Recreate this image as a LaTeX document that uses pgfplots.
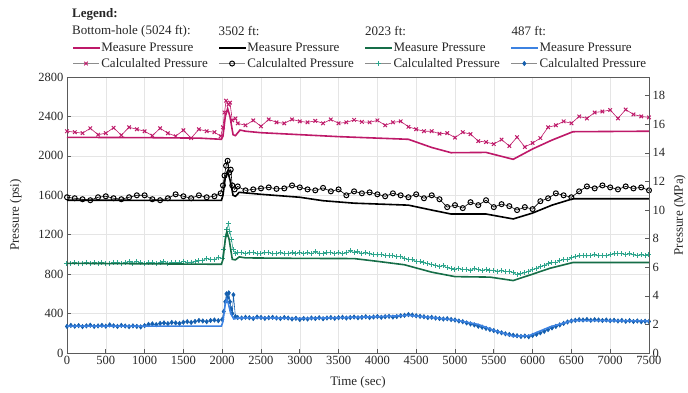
\documentclass[border=0pt]{standalone}
\usepackage{fontspec}
\setmainfont{Liberation Serif}
\usepackage{pgfplots}
\pgfplotsset{compat=1.18}
\definecolor{cmag}{RGB}{190,25,105}
\definecolor{cgrnM}{RGB}{22,110,72}
\definecolor{cgrnC}{RGB}{45,165,140}
\definecolor{cbluM}{RGB}{60,130,225}
\definecolor{cbluC}{RGB}{20,95,175}
\definecolor{axgray}{RGB}{90,90,90}
\begin{document}
\begin{tikzpicture}
\useasboundingbox (-67pt,-39pt) rectangle (621pt,353pt);
\begin{axis}[
 at={(0pt,0pt)}, anchor=south west,
 width=582pt, height=276pt, scale only axis,
 xmin=0, xmax=7500, ymin=0, ymax=2800,
 xtick={0,500,...,7500}, ytick={0,400,...,2800},
 tick pos=left, tick align=inside, major tick length=4pt,
 grid=major, major grid style={color=black!10, line width=0.5pt},
 axis line style={axgray, line width=0.8pt},
 tick style={axgray, line width=0.6pt},
 ticklabel style={font=\fontsize{12.5}{14}\selectfont, text=black!85},
 /pgf/number format/assume math mode=true,
 /pgf/number format/1000 sep={},
 xlabel={Time (sec)}, ylabel={Pressure (psi)},
 label style={font=\fontsize{13}{15}\selectfont, text=black!85},
 xlabel style={at={(axis description cs:0.5,-0.105)}, anchor=center},
 ylabel style={at={(axis description cs:-0.088,0.5)}, anchor=center, rotate=0},
 clip mode=individual,
 legend columns=4,
 legend cell align=left,
 legend style={at={(axis description cs:0.0086,1.076)}, anchor=west, draw=none, fill=none, inner sep=0pt,
   font=\fontsize{13}{14}\selectfont, text=black!85, nodes={inner sep=0.5pt}, row sep=4pt, column sep=0pt},
 legend image code/.code={\draw[mark repeat=2,mark phase=2,#1] plot coordinates {(0pt,0pt) (13pt,0pt) (26pt,0pt)};},
]
% ---------- legend images ----------
\addlegendimage{legend image code/.code={\draw[cmag, line width=1.6pt] (0pt,0pt) -- (27pt,0pt);}}
\addlegendentry{\makebox[116.5pt][l]{Measure Pressure}}
\addlegendimage{legend image code/.code={\draw[black, line width=1.6pt] (0pt,0pt) -- (27pt,0pt);}}
\addlegendentry{\makebox[116.5pt][l]{Measure Pressure}}
\addlegendimage{legend image code/.code={\draw[cgrnM, line width=1.6pt] (0pt,0pt) -- (27pt,0pt);}}
\addlegendentry{\makebox[116.5pt][l]{Measure Pressure}}
\addlegendimage{legend image code/.code={\draw[cbluM, line width=1.6pt] (0pt,0pt) -- (27pt,0pt);}}
\addlegendentry{\makebox[108pt][l]{Measure Pressure}}
\addlegendimage{black!45, line width=0.6pt, mark=x, mark size=2.5pt, mark options={cmag, line width=1pt}}
\addlegendentry{\makebox[116.5pt][l]{Calculalted Pressure}}
\addlegendimage{black!45, line width=0.6pt, mark=o, mark size=2.5pt, mark options={black, line width=1pt}}
\addlegendentry{\makebox[116.5pt][l]{Calculalted Pressure}}
\addlegendimage{black!45, line width=0.6pt, mark=+, mark size=2.5pt, mark options={cgrnC, line width=1pt}}
\addlegendentry{\makebox[116.5pt][l]{Calculalted Pressure}}
\addlegendimage{black!45, line width=0.6pt, mark=diamond*, mark size=2.2pt, mark options={cbluC}}
\addlegendentry{\makebox[108pt][l]{Calculalted Pressure}}

% ---------- Bottom-hole ----------
\addplot[forget plot, cmag, line width=0.6pt, mark=x, mark size=2.5pt, mark options={line width=1pt}] coordinates {
(0,2250)(100,2240)(200,2230)(300,2280)(400,2215)(500,2230)(600,2285)(700,2210)(800,2290)(900,2270)(1000,2250)(1100,2205)(1200,2280)(1300,2230)(1400,2200)(1500,2260)(1600,2180)(1700,2270)(1800,2250)(1900,2240)(1980,2200)(2010,2290)(2030,2440)(2050,2560)(2080,2520)(2100,2540)(2130,2360)(2170,2380)(2200,2330)(2300,2310)(2400,2360)(2500,2300)(2600,2370)(2700,2340)(2800,2330)(2900,2370)(3000,2350)(3100,2340)(3200,2355)(3300,2330)(3400,2370)(3500,2330)(3600,2340)(3700,2365)(3800,2345)(3900,2340)(4000,2360)(4100,2310)(4200,2340)(4300,2350)(4400,2295)(4500,2270)(4600,2250)(4700,2250)(4800,2225)(4900,2230)(5000,2185)(5100,2240)(5200,2220)(5300,2150)(5400,2140)(5500,2120)(5600,2165)(5700,2100)(5800,2190)(5900,2090)(6000,2130)(6100,2180)(6200,2290)(6300,2310)(6400,2350)(6500,2330)(6600,2400)(6700,2380)(6800,2440)(6900,2450)(7000,2465)(7100,2380)(7200,2470)(7300,2420)(7400,2400)(7500,2390)};
\addplot[forget plot, cmag, line width=1.6pt, mark=none] coordinates {
(0,2188)(1000,2185)(1700,2180)(1990,2168)(2010,2200)(2040,2400)(2070,2480)(2100,2400)(2140,2215)(2170,2205)(2230,2262)(2300,2250)(2500,2235)(3000,2215)(3500,2195)(4000,2180)(4400,2168)(4700,2085)(4950,2032)(5400,2035)(5750,1965)(6000,2070)(6250,2160)(6520,2245)(7500,2250)};

% ---------- 3502 ft ----------
\addplot[forget plot, black, line width=0.6pt, mark=o, mark size=2.5pt, mark options={line width=1pt}] coordinates {
(0,1580)(100,1570)(200,1560)(300,1550)(400,1580)(500,1590)(600,1570)(700,1560)(800,1580)(900,1600)(1000,1600)(1100,1560)(1200,1550)(1300,1570)(1400,1610)(1500,1590)(1600,1570)(1700,1600)(1800,1580)(1900,1590)(1980,1620)(2010,1700)(2030,1800)(2050,1900)(2070,1950)(2090,1830)(2110,1860)(2130,1700)(2160,1660)(2200,1690)(2300,1650)(2400,1660)(2500,1670)(2600,1680)(2700,1665)(2800,1670)(2900,1700)(3000,1680)(3100,1660)(3200,1650)(3300,1675)(3400,1640)(3500,1660)(3600,1600)(3700,1640)(3800,1620)(3900,1630)(4000,1610)(4100,1590)(4200,1620)(4300,1600)(4400,1580)(4500,1610)(4600,1570)(4700,1600)(4800,1560)(4900,1480)(5000,1500)(5100,1470)(5200,1530)(5300,1500)(5400,1550)(5500,1480)(5600,1510)(5700,1490)(5800,1450)(5900,1480)(6000,1460)(6100,1540)(6200,1570)(6300,1620)(6400,1600)(6500,1580)(6600,1640)(6700,1690)(6800,1670)(6900,1700)(7000,1680)(7100,1660)(7200,1690)(7300,1670)(7400,1680)(7500,1650)};
\addplot[forget plot, black, line width=1.6pt, mark=none] coordinates {
(0,1550)(1990,1548)(2010,1600)(2040,1780)(2070,1840)(2100,1760)(2140,1600)(2170,1590)(2220,1630)(2500,1610)(3000,1580)(3300,1545)(3700,1520)(4400,1500)(4700,1450)(4950,1410)(5400,1410)(5750,1360)(6000,1420)(6250,1500)(6520,1565)(7500,1565)};

% ---------- 2023 ft ----------
\addplot[forget plot, cgrnC, line width=0.6pt, mark=+, mark size=2.5pt, mark options={line width=1pt}] coordinates {
(0,910)(50,905)(100,915)(150,908)(200,912)(250,920)(300,910)(350,915)(400,905)(450,918)(500,912)(550,908)(600,920)(650,915)(700,910)(750,918)(800,925)(850,912)(900,930)(950,915)(1000,905)(1050,915)(1100,920)(1150,910)(1200,918)(1250,925)(1300,912)(1350,915)(1400,920)(1450,915)(1500,930)(1550,918)(1600,922)(1650,925)(1700,935)(1750,940)(1800,960)(1850,950)(1900,945)(1950,970)(2000,960)(2020,1050)(2040,1180)(2060,1250)(2080,1310)(2100,1230)(2120,1150)(2140,1050)(2170,1010)(2200,1015)(2250,1020)(2300,1010)(2350,1015)(2400,1020)(2450,1005)(2500,1010)(2550,1015)(2600,1020)(2650,1005)(2700,1010)(2750,1018)(2800,1005)(2850,1012)(2900,1015)(2950,1005)(3000,1020)(3050,1010)(3100,1015)(3150,1008)(3200,1025)(3250,1012)(3300,1010)(3350,1015)(3400,1020)(3450,1010)(3500,1015)(3550,1005)(3600,1015)(3650,1035)(3700,1020)(3750,1025)(3800,1010)(3850,1015)(3900,1005)(3950,1000)(4000,995)(4050,1000)(4100,990)(4150,985)(4200,990)(4250,975)(4300,980)(4350,960)(4400,950)(4450,945)(4500,930)(4550,925)(4600,915)(4650,905)(4700,900)(4750,890)(4800,880)(4850,885)(4900,865)(4950,855)(5000,850)(5050,860)(5100,845)(5150,850)(5200,840)(5250,855)(5300,845)(5350,835)(5400,850)(5450,840)(5500,838)(5550,830)(5600,835)(5650,825)(5700,830)(5750,815)(5800,795)(5850,805)(5900,815)(5950,830)(6000,845)(6050,860)(6100,875)(6150,890)(6200,905)(6250,920)(6300,915)(6350,935)(6400,950)(6450,945)(6500,965)(6550,975)(6600,985)(6650,990)(6700,985)(6750,990)(6800,995)(6850,985)(6900,990)(6950,985)(7000,995)(7050,1005)(7100,1010)(7150,1008)(7200,1000)(7250,1005)(7300,995)(7350,990)(7400,995)(7450,990)(7500,995)};
\addplot[forget plot, cgrnM, line width=1.6pt, mark=none] coordinates {
(0,910)(1000,905)(1990,900)(2010,950)(2040,1150)(2060,1230)(2090,1150)(2130,950)(2170,945)(2220,975)(2300,965)(3000,960)(3700,958)(4000,930)(4350,895)(4700,820)(5000,775)(5450,770)(5750,735)(6000,800)(6225,860)(6520,918)(7500,918)};

% ---------- 487 ft ----------
\addplot[forget plot, cbluC, line width=0.6pt, mark=diamond*, mark size=2.2pt] coordinates {
(0,270)(50,280)(100,272)(150,278)(200,268)(250,275)(300,282)(350,270)(400,275)(450,280)(500,272)(550,285)(600,276)(650,270)(700,280)(750,274)(800,268)(850,275)(900,270)(950,265)(1000,278)(1050,290)(1100,295)(1150,288)(1200,300)(1250,305)(1300,298)(1350,310)(1400,305)(1450,300)(1500,312)(1550,318)(1600,310)(1650,320)(1700,330)(1750,325)(1800,318)(1850,330)(1900,335)(1950,328)(2000,340)(2020,420)(2040,520)(2055,600)(2070,560)(2085,610)(2100,520)(2115,450)(2130,400)(2145,590)(2170,370)(2200,360)(2250,355)(2300,362)(2350,358)(2400,350)(2450,365)(2500,360)(2550,352)(2600,358)(2650,362)(2700,355)(2750,350)(2800,360)(2850,355)(2900,345)(2950,352)(3000,340)(3050,350)(3100,345)(3150,355)(3200,350)(3250,358)(3300,348)(3350,355)(3400,360)(3450,352)(3500,358)(3550,362)(3600,355)(3650,360)(3700,365)(3750,358)(3800,362)(3850,368)(3900,360)(3950,365)(4000,370)(4050,362)(4100,368)(4150,372)(4200,365)(4250,370)(4300,378)(4350,382)(4400,390)(4450,385)(4500,378)(4550,372)(4600,368)(4650,360)(4700,362)(4750,355)(4800,350)(4850,345)(4900,348)(4950,340)(5000,335)(5050,325)(5100,318)(5150,305)(5200,295)(5250,285)(5300,272)(5350,262)(5400,250)(5450,238)(5500,228)(5550,215)(5600,205)(5650,195)(5700,188)(5750,180)(5800,175)(5850,168)(5900,172)(5950,165)(6000,178)(6050,190)(6100,205)(6150,220)(6200,238)(6250,255)(6300,270)(6350,285)(6400,300)(6450,315)(6500,325)(6550,332)(6600,338)(6650,335)(6700,340)(6750,332)(6800,338)(6850,335)(6900,330)(6950,335)(7000,328)(7050,332)(7100,325)(7150,330)(7200,322)(7250,328)(7300,320)(7350,325)(7400,318)(7450,322)(7500,320)};
\addplot[forget plot, cbluM, line width=1.6pt, mark=none] coordinates {
(0,272)(1000,272)(1990,272)(2010,320)(2040,500)(2060,545)(2080,500)(2110,400)(2150,345)(2200,355)(2500,358)(3000,350)(3500,358)(4000,368)(4400,382)(4700,360)(5000,335)(5300,290)(5500,230)(5750,170)(5950,175)(6225,265)(6520,330)(7500,325)};

% ---------- legend headers ----------
\node[anchor=west, font=\bfseries\fontsize{13}{14}\selectfont, text=black!85, inner sep=0pt] at (axis description cs:0.0086,1.225) {Legend:};
\node[anchor=west, font=\fontsize{13}{14}\selectfont, text=black!85, inner sep=0pt] at (axis description cs:0.0086,1.167) {Bottom-hole (5024 ft):};
\node[anchor=west, font=\fontsize{13}{14}\selectfont, text=black!85, inner sep=0pt] at (axis description cs:0.2603,1.167) {3502 ft:};
\node[anchor=west, font=\fontsize{13}{14}\selectfont, text=black!85, inner sep=0pt] at (axis description cs:0.5120,1.167) {2023 ft:};
\node[anchor=west, font=\fontsize{13}{14}\selectfont, text=black!85, inner sep=0pt] at (axis description cs:0.7637,1.167) {487 ft:};
\end{axis}
\begin{axis}[
 at={(0pt,0pt)}, anchor=south west,
 width=582pt, height=276pt, scale only axis,
 xmin=0, xmax=7500, ymin=0, ymax=19.3053,
 axis x line=none, axis y line*=right,
 ytick={0,2,...,18},
 tick align=inside, major tick length=4pt,
 axis line style={axgray, line width=0.8pt},
 tick style={axgray, line width=0.6pt},
 ticklabel style={font=\fontsize{12.5}{14}\selectfont, text=black!85},
 /pgf/number format/assume math mode=true,
 ylabel={Pressure (MPa)},
 label style={font=\fontsize{13}{15}\selectfont, text=black!85},
 ylabel style={at={(axis description cs:1.053,0.5)}, anchor=center, rotate=0},
]
\end{axis}
\end{tikzpicture}
\end{document}
